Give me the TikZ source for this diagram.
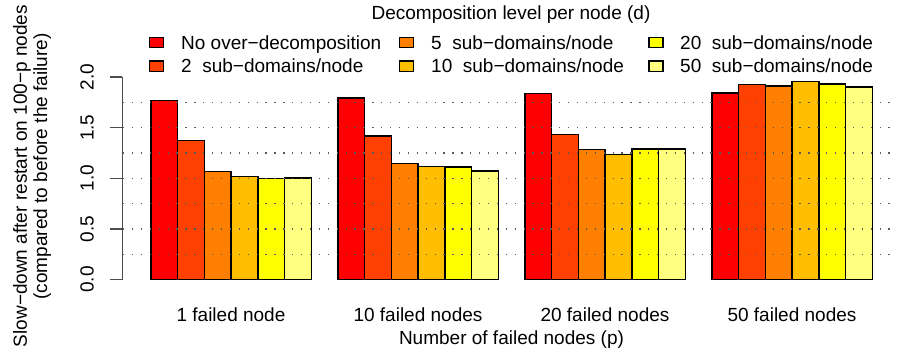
\documentclass[tikz,border=0pt]{standalone}
\usepackage{fontspec}
\setmainfont{Liberation Sans}
\usepackage{tikz}
\usepackage{xcolor}
\usetikzlibrary{positioning, calc}

\definecolor{heat1}{HTML}{FF0000}
\definecolor{heat2}{HTML}{FF4000}
\definecolor{heat3}{HTML}{FF8000}
\definecolor{heat4}{HTML}{FFBF00}
\definecolor{heat5}{HTML}{FFFF00}
\definecolor{heat6}{HTML}{FFFF80}

\begin{document}
\begin{tikzpicture}[x=1pt, y=-1pt, font=\fontsize{19}{23}\selectfont,
    bar/.style={draw=black, line width=1.4pt},
    grid/.style={black!65, line width=1.2pt, dash pattern=on 1.3pt off 7.6pt},
    axis/.style={black!70, line width=1.4pt},
    key/.style={draw=black, line width=1.2pt, minimum width=14pt, minimum height=10.5pt, inner sep=0pt}]
    \useasboundingbox (0,0) rectangle (897,351);
    % bars, one group per number of failed nodes
    \foreach \g/\vals in {0/{1.768,1.373,1.066,1.020,0.997,1.004},
                          1/{1.792,1.419,1.149,1.116,1.110,1.073},
                          2/{1.838,1.432,1.284,1.238,1.288,1.288},
                          3/{1.842,1.924,1.914,1.957,1.931,1.901}}
        \foreach \v [count=\i] in \vals
            \draw[bar, fill=heat\i] ({151+187*\g+26.7*(\i-1)},279.5) rectangle ++(26.7,{-101.2*\v});
    \foreach \t in {0.25,0.5,0.75,1.0,1.25,1.5,1.75}
        \draw[grid] (123,{279.5-101.2*\t}) -- (897,{279.5-101.2*\t});
    % y axis
    \draw[axis] (122.3,279.5) -- (122.3,77.1);
    \foreach \t [count=\i] in {0.0,0.5,1.0,1.5,2.0} {
        \draw[axis] (122.3,{279.5-101.2*\t}) -- (110,{279.5-101.2*\t});
        \node[rotate=90, anchor=base, inner sep=0pt] (tick\i) at (93.5,{279.5-101.2*\t}) {\t};
    }
    \node[rotate=90, anchor=base, inner sep=0pt] (ylab) at (27,176) {Slow−down after restart on 100−p nodes};
    \node[rotate=90, anchor=base, inner sep=0pt] (ylab2) at (47,166.5) {(compared to before the failure)};
    % x labels
    \foreach \lab [count=\i] in {1 failed node,10 failed nodes,20 failed nodes,50 failed nodes}
        \node[anchor=base, inner sep=0pt] (grp\i) at ({231+187*(\i-1)},321.5) {\lab};
    \node[anchor=base, inner sep=0pt] (xlab) at (511.5,344) {Number of failed nodes (p)};
    % legend
    \node[anchor=base, inner sep=0pt] (title) at (511,19) {Decomposition level per node (d)};
    \node[key, fill=heat1] (k1) at (156.3,42.5) {};
    \node[key, fill=heat2] (k2) at (156.3,66.3) {};
    \node[key, fill=heat3] (k3) at (406.2,42.5) {};
    \node[key, fill=heat4] (k4) at (406.2,66.3) {};
    \node[key, fill=heat5] (k5) at (656,42.5) {};
    \node[key, fill=heat6] (k6) at (656,66.3) {};
    \node[anchor=base west, inner sep=0pt] (t1) at (181,49) {No over−decomposition};
    \node[anchor=base west, inner sep=0pt] (t2) at (181,72.5) {2\ \ sub−domains/node};
    \node[anchor=base west, inner sep=0pt] (t3) at (431,49) {5\ \ sub−domains/node};
    \node[anchor=base west, inner sep=0pt] (t4) at (431,72.5) {10\ \ sub−domains/node};
    \node[anchor=base west, inner sep=0pt] (t5) at (680,49) {20\ \ sub−domains/node};
    \node[anchor=base west, inner sep=0pt] (t6) at (680,72.5) {50\ \ sub−domains/node};
\end{tikzpicture}
\end{document}
